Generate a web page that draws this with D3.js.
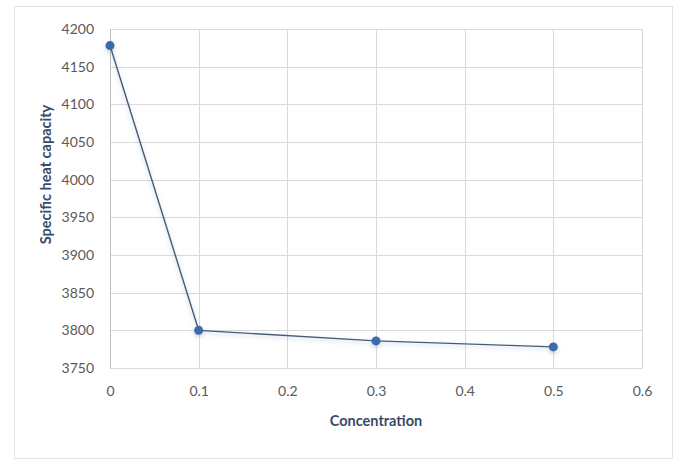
<!DOCTYPE html>
<html>
<head>
<meta charset="utf-8">
<script src="https://cdn.jsdelivr.net/npm/d3@7"></script>
<style>
  html, body { margin: 0; padding: 0; background: #fff; }
  svg text { font-family: Lato, "Open Sans", sans-serif; }
</style>
</head>
<body>
<svg id="chart" width="678" height="460"></svg>
<script>
// Specific heat capacity vs. nanoparticle concentration
const concentration = [0, 0.1, 0.3, 0.5];
const heatCapacity = [4178, 3800, 3786, 3778];
const xTicks = [0, 0.1, 0.2, 0.3, 0.4, 0.5, 0.6];
const yTicks = [3750, 3800, 3850, 3900, 3950, 4000, 4050, 4100, 4150, 4200];

const svg = d3.select("#chart");
const W = 678, H = 460;
const m = { left: 110, right: 36, top: 29, bottom: 92 };

// chart frame
svg.append("rect")
  .attr("x", 14.5).attr("y", 6.5)
  .attr("width", 658).attr("height", 452)
  .attr("fill", "#fff").attr("stroke", "#dfe4ea");

const x = d3.scaleLinear().domain([0, 0.6]).range([m.left, W - m.right]);
const y = d3.scaleLinear().domain([3750, 4200]).range([H - m.bottom, m.top]);

// gridlines
const grid = svg.append("g");
grid.selectAll(".hg").data(yTicks).join("line")
  .attr("x1", x(0)).attr("x2", x(0.6))
  .attr("y1", d => Math.round(y(d)) + 0.5).attr("y2", d => Math.round(y(d)) + 0.5)
  .attr("stroke", "#d9d9d9");
grid.selectAll(".vg").data(xTicks.slice(1)).join("line")
  .attr("y1", y(3750)).attr("y2", y(4200))
  .attr("x1", d => Math.round(x(d)) + 0.5).attr("x2", d => Math.round(x(d)) + 0.5)
  .attr("stroke", "#d9d9d9");

// axes
const yAxis = svg.append("g")
  .attr("transform", `translate(${x(0)},0)`)
  .call(d3.axisLeft(y).tickValues(yTicks).tickSize(0).tickPadding(16).tickFormat(d3.format("d")));
const xAxis = svg.append("g")
  .attr("transform", `translate(0,${y(3750)})`)
  .call(d3.axisBottom(x).tickValues(xTicks).tickSize(0).tickPadding(18)
    .tickFormat(d => d === 0 ? "0" : d3.format(".1f")(d)));
yAxis.select(".domain").attr("stroke", "#bfbfbf");
xAxis.select(".domain").attr("stroke", "#d9d9d9");
svg.selectAll(".tick text").attr("fill", "#595959").attr("font-size", 14);

// axis titles
svg.append("text")
  .attr("transform", `translate(51,${(y(3750) + y(4200)) / 2 - 24}) rotate(-90)`)
  .attr("text-anchor", "middle")
  .attr("font-size", 14.5).attr("font-weight", "bold").attr("fill", "#3a4a68")
  .text("Specific heat capacity");
svg.append("text")
  .attr("x", 376).attr("y", 426)
  .attr("text-anchor", "middle")
  .attr("font-size", 14.5).attr("font-weight", "bold").attr("fill", "#3a4a68")
  .text("Concentration");

// soft shadow for the series
const defs = svg.append("defs");
const f = defs.append("filter").attr("id", "glow")
  .attr("x", "-10%").attr("y", "-10%").attr("width", "120%").attr("height", "130%");
f.append("feGaussianBlur").attr("in", "SourceAlpha").attr("stdDeviation", 2).attr("result", "b");
f.append("feOffset").attr("in", "b").attr("dy", 2).attr("result", "o");
f.append("feFlood").attr("flood-color", "#7f9cc4").attr("flood-opacity", 0.5);
f.append("feComposite").attr("in2", "o").attr("operator", "in").attr("result", "s");
const fm = f.append("feMerge");
fm.append("feMergeNode").attr("in", "s");
fm.append("feMergeNode").attr("in", "SourceGraphic");

const pts = concentration.map((c, i) => [c, heatCapacity[i]]);
const series = svg.append("g").attr("filter", "url(#glow)");
series.append("path")
  .datum(pts)
  .attr("fill", "none")
  .attr("stroke", "#4a5a78")
  .attr("stroke-width", 1.4)
  .attr("d", d3.line().x(d => x(d[0])).y(d => y(d[1])));
series.selectAll("circle").data(pts).join("circle")
  .attr("cx", d => x(d[0])).attr("cy", d => y(d[1]))
  .attr("r", 4.5)
  .attr("fill", "#3d6aa8");
</script>
</body>
</html>
